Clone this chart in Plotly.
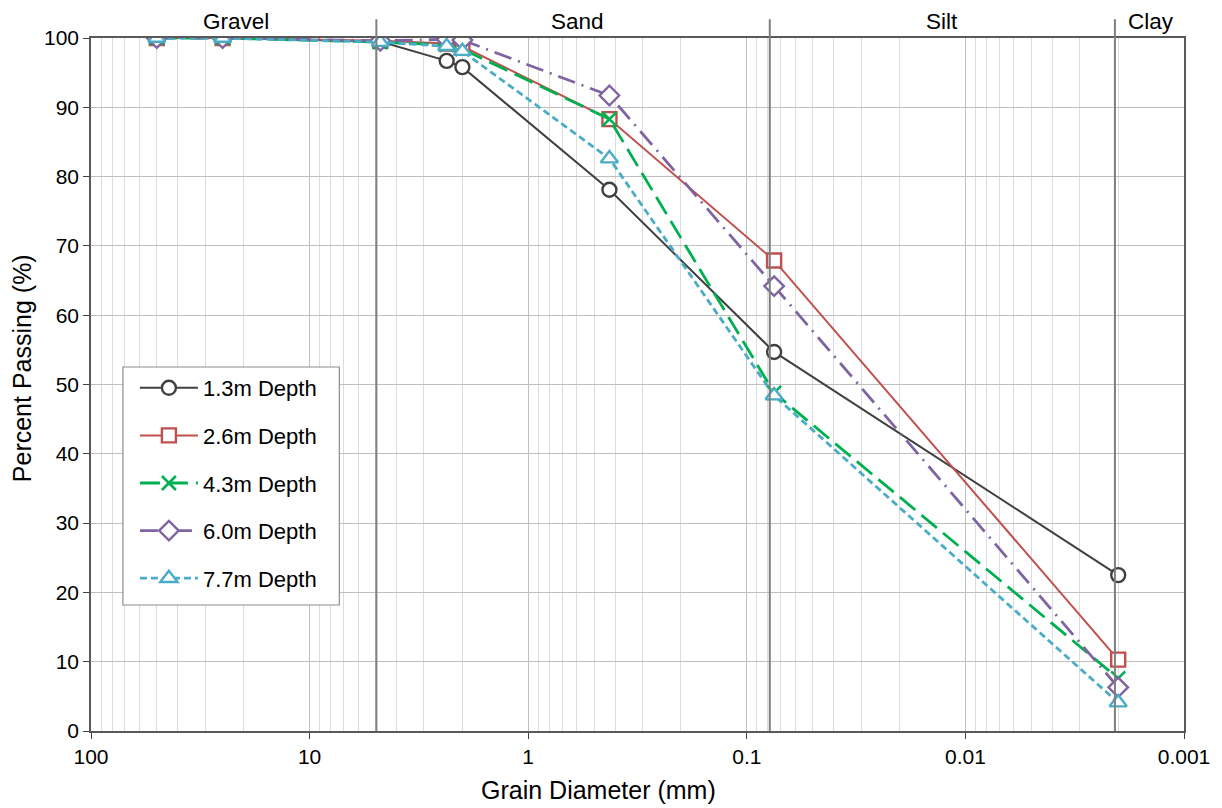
import math
import plotly.graph_objects as go

# Sieve / hydrometer sizes (mm)
grain_mm = [50, 25, 4.75, 2.36, 2.0, 0.425, 0.075, 0.002]

# Percent passing per sample depth
pass_13 = [100, 100, 99.5, 96.7, 95.8, 78.1, 54.7, 22.5]
pass_26 = [100, 100, 99.6, 99.2, 98.8, 88.3, 67.9, 10.3]
pass_43 = [100, 100, 99.4, 99.0, 98.4, 88.3, 48.8, 7.6]
pass_60 = [100, 100, 99.6, 99.8, 99.7, 91.7, 64.2, 6.3]
pass_77 = [100, 100, 99.4, 98.8, 98.1, 82.6, 48.4, 4.1]

series_names = ["1.3m Depth", "2.6m Depth", "4.3m Depth", "6.0m Depth", "7.7m Depth"]

# Soil class boundaries (mm) and class labels
boundaries = [4.95, 0.0785, 0.00207]
class_labels = ["Gravel", "Sand", "Silt", "Clay"]
class_centres = [21.8, 0.597, 0.0128, 0.00141]

x_tick_vals = [100, 10, 1, 0.1, 0.01, 0.001]
x_tick_text = ["100", "10", "1", "0.1", "0.01", "0.001"]

styles = [
    dict(color="#404040", dash="solid", symbol="circle", size=14, width=2.0),
    dict(color="#C0504D", dash="solid", symbol="square", size=14, width=2.0),
    dict(color="#00B050", dash="20px,8px", symbol="x-thin", size=14, width=2.8),
    dict(color="#8064A2", dash="18px,7px,2px,7px", symbol="diamond", size=15, width=2.8),
    dict(color="#4BACC6", dash="7px,4px", symbol="triangle-up", size=15, width=2.8),
]

# Canvas and plotting-area geometry (px)
W, H = 1222, 808
L, R, T, B = 91, 35, 38, 77
pw, ph = W - L - R, H - T - B


def px_x(x):
    return (x - L) / pw


def px_y(y):
    return (H - B - y) / ph


fig = go.Figure()
for i, (name, ys, st) in enumerate(zip(series_names,
                                         [pass_13, pass_26, pass_43, pass_60, pass_77],
                                         styles)):
    if st["symbol"] == "x-thin":
        marker = dict(symbol="x-thin", size=st["size"], color=st["color"],
                      line=dict(color=st["color"], width=2.6))
    else:
        marker = dict(symbol=st["symbol"], size=st["size"], color="white",
                      line=dict(color=st["color"], width=2.4))
    fig.add_trace(go.Scatter(
        x=grain_mm, y=ys, name=name, mode="lines+markers",
        legendgroup=f"g{i}",
        line=dict(color=st["color"], width=st["width"], dash=st["dash"]),
        marker=marker,
    ))

# Minor log gridlines (2..9 within each decade)
minor_vals = [m * 10 ** e for e in range(-3, 2) for m in range(2, 10)]

fig.update_xaxes(
    type="log", range=[2, -3],
    tickmode="array", tickvals=x_tick_vals, ticktext=x_tick_text,
    ticks="outside", ticklen=6, tickcolor="#404040",
    showgrid=True, gridcolor="#BFBFBF", gridwidth=1,
    minor=dict(tickmode="array", tickvals=minor_vals, showgrid=True,
               gridcolor="#DCDCDC", gridwidth=1, ticks=""),
    showline=True, linecolor="#595959", linewidth=1.5, mirror=True,
    tickfont=dict(size=21, color="#000000"),
    zeroline=False,
)
fig.update_yaxes(
    range=[0, 100], tickmode="linear", tick0=0, dtick=10,
    ticks="outside", ticklen=6, tickcolor="#404040",
    showgrid=True, gridcolor="#BFBFBF", gridwidth=1,
    showline=True, linecolor="#595959", linewidth=1.5, mirror=True,
    tickfont=dict(size=21, color="#000000"),
    zeroline=False,
)

shapes = []
for b in boundaries:
    shapes.append(dict(type="line", xref="x", yref="paper", x0=b, x1=b,
                       y0=0, y1=1.027, line=dict(color="#7F7F7F", width=2)))

# Legend frame
shapes.append(dict(type="rect", xref="paper", yref="paper", layer="above",
                   x0=px_x(123), x1=px_x(340), y0=px_y(605), y1=px_y(367),
                   fillcolor="white", line=dict(color="#8C8C8C", width=1.2)))

annotations = []
for lab, c in zip(class_labels, class_centres):
    annotations.append(dict(x=math.log10(c), y=1.0, xref="x", yref="paper",
                            text=lab, showarrow=False, yanchor="bottom", yshift=2,
                            font=dict(size=22.5, color="#000000")))

# Axis titles
annotations.append(dict(x=px_x(600), y=px_y(790), xref="paper", yref="paper",
                        xanchor="center", yanchor="middle",
                        text="Grain Diameter (mm)",
                        showarrow=False, font=dict(size=25, color="#000000")))
annotations.append(dict(x=px_x(22), y=px_y(368), xref="paper", yref="paper",
                        xanchor="center", yanchor="middle",
                        text="Percent Passing (%)",
                        showarrow=False, textangle=-90, font=dict(size=25, color="#000000")))

fig.update_layout(
    width=W, height=H,
    margin=dict(l=L, r=R, t=T, b=B),
    paper_bgcolor="white", plot_bgcolor="white",
    font=dict(family="Liberation Sans, Arial, sans-serif", color="#000000"),
    shapes=shapes, annotations=annotations,
    legend=dict(x=px_x(123), y=px_y(367), xanchor="left", yanchor="top",
                bgcolor="rgba(0,0,0,0)", borderwidth=0,
                font=dict(size=22), tracegroupgap=16, itemwidth=58,
                indentation=12),
    showlegend=True,
)

fig.write_html("out.html")
